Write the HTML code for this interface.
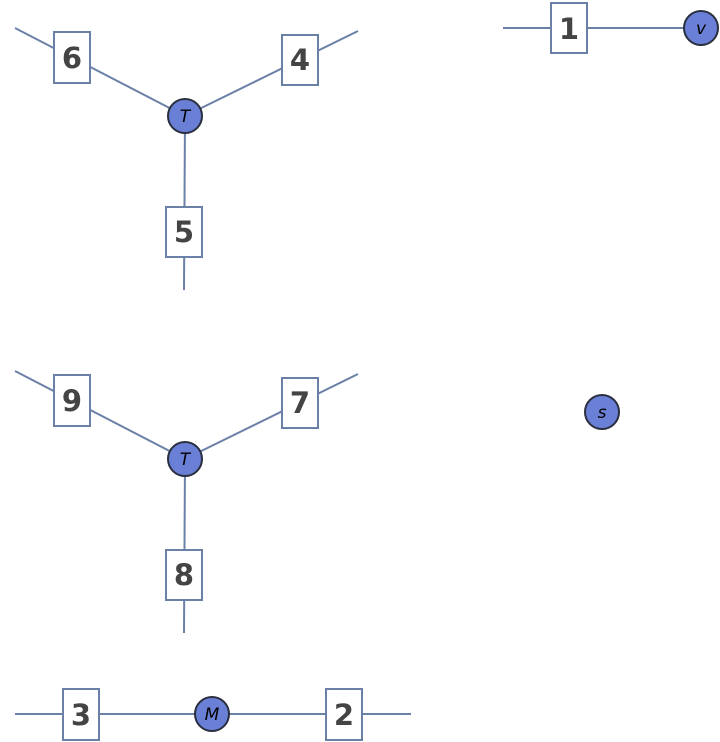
<!DOCTYPE html>
<html><head><meta charset="utf-8"><style>
html,body{margin:0;padding:0;background:#fff;width:720px;height:742px;overflow:hidden}
svg{display:block}
.l{stroke:#6a80a6;stroke-width:2;fill:none}
.b{fill:#fff;stroke:#6a80a6;stroke-width:2}
.c{fill:#6a80d6;stroke:#2a2f3f;stroke-width:2}
.n{font-family:"DejaVu Sans","Liberation Sans",sans-serif;font-weight:bold;font-size:29px;fill:#444;text-anchor:middle}
.t{font-family:"DejaVu Sans","Liberation Sans",sans-serif;font-style:italic;font-size:17px;fill:#000;text-anchor:middle}
</style></head><body>
<svg width="720" height="742" viewBox="0 0 720 742">
<g id="g1">
<line class="l" x1="15" y1="28" x2="185" y2="116"/>
<line class="l" x1="358" y1="31" x2="185" y2="116"/>
<line class="l" x1="185" y1="116" x2="184" y2="290"/>
<rect class="b" x="54" y="32" width="36" height="51"/>
<text class="n" x="72" y="68">6</text>
<rect class="b" x="282" y="35" width="36" height="50"/>
<text class="n" x="300" y="70">4</text>
<rect class="b" x="166" y="207" width="36" height="50"/>
<text class="n" x="184" y="242">5</text>
<circle class="c" cx="185" cy="116" r="17"/>
<text class="t" x="185" y="122">T</text>
</g>
<g transform="translate(0,343)">
<line class="l" x1="15" y1="28" x2="185" y2="116"/>
<line class="l" x1="358" y1="31" x2="185" y2="116"/>
<line class="l" x1="185" y1="116" x2="184" y2="290"/>
<rect class="b" x="54" y="32" width="36" height="51"/>
<text class="n" x="72" y="68">9</text>
<rect class="b" x="282" y="35" width="36" height="50"/>
<text class="n" x="300" y="70">7</text>
<rect class="b" x="166" y="207" width="36" height="50"/>
<text class="n" x="184" y="242">8</text>
<circle class="c" cx="185" cy="116" r="17"/>
<text class="t" x="185" y="122">T</text>
</g>
<line class="l" x1="503" y1="28" x2="690" y2="28"/>
<rect class="b" x="551" y="3" width="36" height="50"/>
<text class="n" x="569" y="39">1</text>
<circle class="c" cx="701" cy="28" r="17"/>
<text class="t" x="701" y="34">v</text>
<circle class="c" cx="602" cy="412" r="17"/>
<text class="t" x="602" y="418">s</text>
<line class="l" x1="15" y1="714" x2="411" y2="714"/>
<rect class="b" x="63" y="689" width="36" height="51"/>
<text class="n" x="81" y="725">3</text>
<rect class="b" x="326" y="689" width="36" height="51"/>
<text class="n" x="344" y="725">2</text>
<circle class="c" cx="212" cy="714" r="17"/>
<text class="t" x="212" y="720">M</text>
</svg>
</body></html>
